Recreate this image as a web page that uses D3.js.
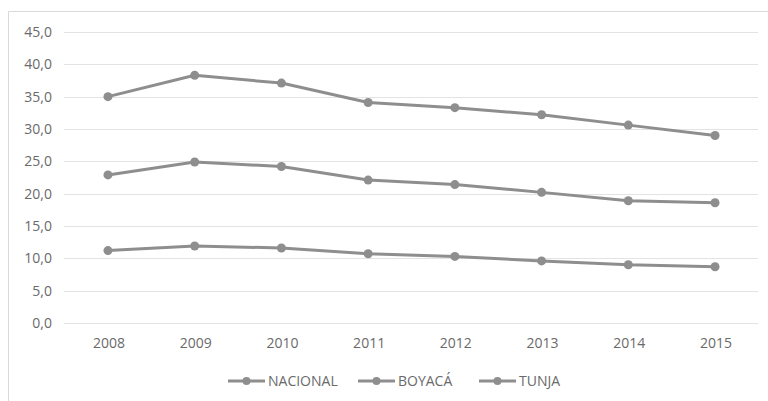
<!DOCTYPE html>
<html><head><meta charset="utf-8">
<script src="https://cdn.jsdelivr.net/npm/d3@7"></script>
<style>
html,body{margin:0;padding:0;background:#fff;}
svg{display:block;}
text{font-family:"Open Sans",sans-serif;}
</style></head>
<body>
<svg id="c" width="768" height="401"></svg>
<script>
const years = ["2008","2009","2010","2011","2012","2013","2014","2015"];
const nacional = [11.2, 11.9, 11.6, 10.7, 10.3, 9.6, 9.0, 8.7];
const boyaca   = [22.9, 24.9, 24.2, 22.1, 21.4, 20.2, 18.9, 18.6];
const tunja    = [35.0, 38.3, 37.1, 34.1, 33.3, 32.2, 30.6, 29.0];
const seriesNames = ["NACIONAL", "BOYACÁ", "TUNJA"];
const yTicks = [0, 5, 10, 15, 20, 25, 30, 35, 40, 45];

const series = [nacional, boyaca, tunja];
const svg = d3.select("#c");
const lineColor = "#8e8e8e";
const textColor = "#6a6a6a";

// chart border
svg.append("path").attr("d", "M8.5,401 V11.5 H768").attr("fill","none").attr("stroke","#d9d9d9").attr("stroke-width",1);

const x = d3.scaleBand().domain(years).range([64.6, 758.4]);
const y = d3.scaleLinear().domain([0, 45]).range([323, 32]);

// gridlines
svg.append("g").selectAll("line").data(yTicks).join("line")
  .attr("x1", 64).attr("x2", 758)
  .attr("y1", d => Math.round(y(d)) + 0.5).attr("y2", d => Math.round(y(d)) + 0.5)
  .attr("stroke", "#e3e3e3").attr("stroke-width", 1);

// y axis labels
const yAxis = d3.axisLeft(y).tickValues(yTicks).tickSize(0).tickPadding(0)
  .tickFormat(d => d3.format(".1f")(d).replace(".", ","));
const ya = svg.append("g").attr("transform", "translate(52,0)").call(yAxis);
ya.select(".domain").remove();
ya.selectAll("text").attr("fill", textColor).style("font-size", "14px").style("font-family", "'Open Sans',sans-serif");

// x axis labels
const xAxis = d3.axisBottom(x).tickSize(0).tickPadding(0);
const xa = svg.append("g").attr("transform", "translate(1,338)").call(xAxis);
xa.select(".domain").remove();
xa.selectAll("text").attr("fill", textColor).style("font-size", "14px").style("font-family", "'Open Sans',sans-serif");

// lines
const line = d3.line().x((d, i) => x(years[i]) + x.bandwidth() / 2).y(d => y(d));
const g = svg.append("g");
series.forEach(s => {
  g.append("path").datum(s).attr("d", line).attr("fill", "none")
    .attr("stroke", lineColor).attr("stroke-width", 3).attr("stroke-linejoin", "round");
  g.append("g").selectAll("circle").data(s).join("circle")
    .attr("cx", (d, i) => x(years[i]) + x.bandwidth() / 2).attr("cy", d => y(d))
    .attr("r", 4.5).attr("fill", lineColor);
});

// legend
const legendItems = [
  {name: seriesNames[0], x0: 228},
  {name: seriesNames[1], x0: 358},
  {name: seriesNames[2], x0: 479}
];
const lg = svg.append("g");
legendItems.forEach(it => {
  lg.append("line").attr("x1", it.x0).attr("x2", it.x0 + 37).attr("y1", 381).attr("y2", 381)
    .attr("stroke", lineColor).attr("stroke-width", 3);
  lg.append("circle").attr("cx", it.x0 + 18.5).attr("cy", 381).attr("r", 4).attr("fill", lineColor);
  lg.append("text").attr("x", it.x0 + 40).attr("y", 381).attr("dy", "0.35em")
    .attr("fill", textColor).style("font-size", "14px").text(it.name);
});
</script>
</body></html>
